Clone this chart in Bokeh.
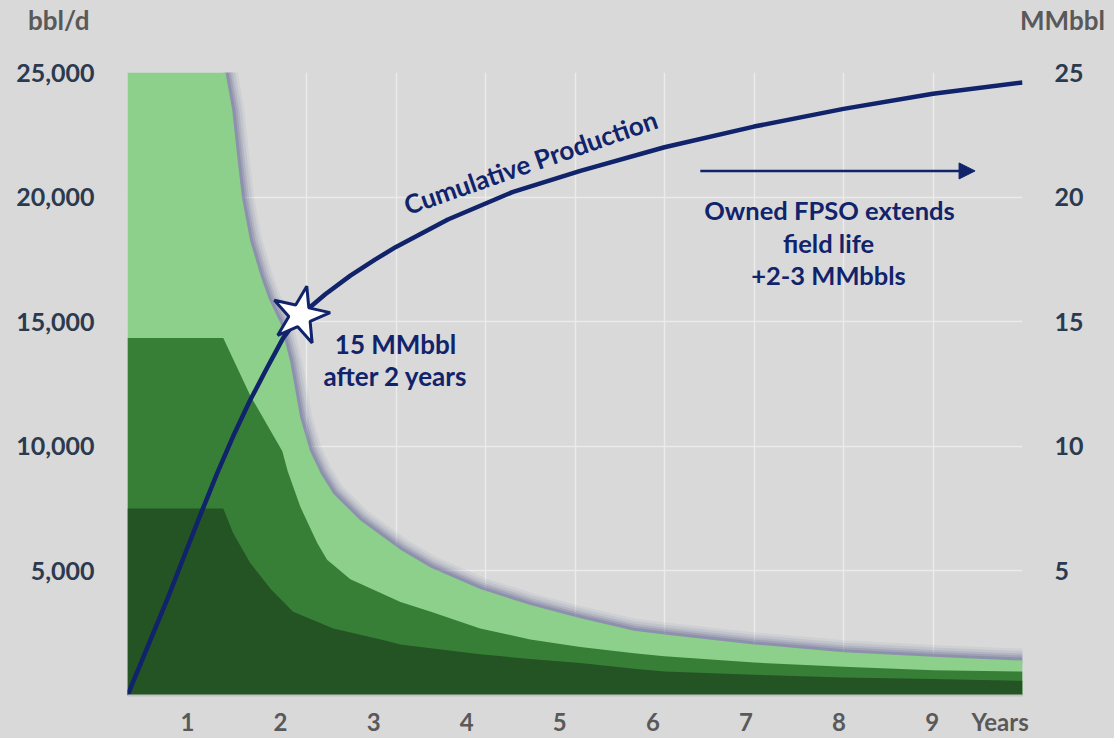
from bokeh.plotting import figure
from bokeh.layouts import column
from bokeh.models import (Range1d, LinearAxis, FixedTicker, NumeralTickFormatter,
                          Label, Arrow, NormalHead, Div)
from bokeh.embed import file_html
from bokeh.resources import INLINE

# ---------------- data ----------------
# total production (top of light green), bbl/d
total_x = [0, 1.095, 1.17, 1.23, 1.28, 1.37, 1.49, 1.58, 1.71, 1.82, 1.93, 2.04, 2.16, 2.30,
           2.60, 3.05, 3.39, 3.94, 4.50, 5.06, 5.66, 6.0, 7.0, 8.0, 9.0, 10.0]
total_y = [25000, 25000, 23500, 21500, 19950, 18250, 16800, 15900, 14930, 13350, 11150, 9800,
           8900, 8100, 7030, 5850, 5130, 4270, 3630, 3100, 2600, 2450, 2050, 1740, 1550, 1400]
# middle layer top (medium green)
medium_x = [0, 1.07, 1.18, 1.37, 1.73, 1.79, 1.93, 2.12, 2.23, 2.49, 3.05, 3.39, 3.94, 4.50,
            5.06, 5.66, 6.0, 7.0, 8.0, 9.0, 10.0]
medium_y = [14350, 14350, 13500, 12050, 9800, 9000, 7580, 6120, 5450, 4660, 3750, 3360, 2690,
            2250, 1950, 1700, 1580, 1320, 1150, 1010, 960]
# bottom layer top (dark green)
dark_x = [0, 1.07, 1.18, 1.37, 1.60, 1.85, 2.30, 2.83, 3.05, 3.39, 3.94, 4.50, 5.06, 5.66,
          6.0, 7.0, 8.0, 9.0, 10.0]
dark_y = [7500, 7500, 6520, 5330, 4270, 3360, 2690, 2250, 2050, 1900, 1660, 1460, 1300, 1070,
          960, 830, 720, 660, 590]
# cumulative production, MMbbl
cum_x = [0, 0.46, 0.65, 0.82, 1.0, 1.18, 1.37, 1.56, 1.74, 1.93, 2.21, 2.49, 2.77, 3.0, 3.58,
         4.3, 5.06, 6.0, 7.0, 8.0, 9.0, 10.0]
cum_y = [0, 4.0, 5.75, 7.3, 8.9, 10.4, 11.85, 13.15, 14.35, 15.25, 16.1, 16.85, 17.5, 18.0,
         19.1, 20.2, 21.05, 22.0, 22.83, 23.54, 24.15, 24.6]
star_year = 1.93
star_value = 15.25

left_ticks = [5000, 10000, 15000, 20000, 25000]
right_ticks = [5, 10, 15, 20, 25]
x_tick_labels = ["1", "2", "3", "4", "5", "6", "7", "8", "9", "Years"]
unit_titles = ["bbl/d", "MMbbl"]
arrow_start, arrow_end, arrow_level = 6.4, 9.47, 21050

# ---------------- styling ----------------
BG = "#d9d9d9"
GRID = "#ebebeb"
LIGHT = "#8cd08b"
MEDIUM = "#377f37"
DARK = "#245424"
NAVY = "#10236b"
SLATE = "#2b3a4f"
GRAY = "#595959"
FONT = "Lato"
TOP_H = 40

# ---- header strip holding the unit titles ----
spans = "".join(
    f'<span style="position:absolute;left:{lx}px;top:4px;line-height:32px;">{txt}</span>'
    for txt, lx in zip(unit_titles, [28, 1020]))
header = Div(text=(f'<div style="position:relative;width:1114px;height:{TOP_H + 2}px;'
                   f'background:{BG};font-family:{FONT};font-weight:bold;font-size:26px;'
                   f'color:{GRAY};white-space:nowrap;">{spans}</div>'),
             width=1114, height=TOP_H, margin=0,
             styles={"background-color": BG, "overflow": "hidden"})

# ---- main chart ----
p = figure(width=1114, height=738 - TOP_H, output_backend="svg", toolbar_location=None,
           x_range=Range1d(0, 10), y_range=Range1d(0, 25000),
           min_border_left=127, min_border_right=92, min_border_top=72 - TOP_H,
           min_border_bottom=33)
p.background_fill_color = BG
p.border_fill_color = BG
p.outline_line_color = None

p.extra_y_ranges = {"cum": Range1d(0, 25)}

# grids
p.xgrid.ticker = FixedTicker(ticks=list(range(0, 11)))
p.ygrid.ticker = FixedTicker(ticks=[0] + left_ticks)
for g in (p.xgrid, p.ygrid):
    g.grid_line_color = GRID
    g.grid_line_width = 1.5

# x axis
label_pos = [round(0.67 + 1.04 * i, 2) for i in range(9)] + [9.75]
xa = p.xaxis[0]
xa.ticker = FixedTicker(ticks=label_pos)
xa.major_label_overrides = {pos: lab for pos, lab in zip(label_pos, x_tick_labels)}
xa.major_tick_line_color = None
xa.minor_tick_line_color = None
xa.axis_line_color = "#c2c2c2"
xa.axis_line_width = 2
xa.major_label_text_font = FONT
xa.major_label_text_font_style = "bold"
xa.major_label_text_font_size = "24px"
xa.major_label_text_color = GRAY
xa.major_label_standoff = 5

# left axis
ya = p.yaxis[0]
ya.ticker = FixedTicker(ticks=left_ticks)
ya.formatter = NumeralTickFormatter(format="0,0")
ya.major_tick_line_color = None
ya.minor_tick_line_color = None
ya.axis_line_color = None
ya.major_label_text_font = FONT
ya.major_label_text_font_style = "bold"
ya.major_label_text_font_size = "25px"
ya.major_label_text_color = SLATE
ya.major_label_standoff = 27

# right axis
ra = LinearAxis(y_range_name="cum", ticker=FixedTicker(ticks=right_ticks))
ra.major_tick_line_color = None
ra.minor_tick_line_color = None
ra.axis_line_color = None
ra.major_label_text_font = FONT
ra.major_label_text_font_style = "bold"
ra.major_label_text_font_size = "25px"
ra.major_label_text_color = SLATE
ra.major_label_standoff = 26
p.add_layout(ra, "right")

# glow / shadow around total production curve
for w, a in [(24, 0.08), (19, 0.11), (14, 0.15), (10, 0.2), (6, 0.26)]:
    p.line(total_x[1:], total_y[1:], line_width=w, line_color="#5a6090", line_alpha=a,
           line_join="round")

# stacked areas
p.varea(x=total_x, y1=0, y2=total_y, fill_color=LIGHT)
p.varea(x=medium_x, y1=0, y2=medium_y, fill_color=MEDIUM)
p.varea(x=dark_x, y1=0, y2=dark_y, fill_color=DARK)

# cumulative line
p.line(cum_x, cum_y, y_range_name="cum", line_color=NAVY, line_width=4.5, line_join="round")
p.scatter([star_year], [star_value], y_range_name="cum", marker="star", size=60,
          fill_color="white", line_color=NAVY, line_width=3, angle=-0.22)

# arrow
p.add_layout(Arrow(end=NormalHead(size=16, fill_color=NAVY, line_color=NAVY),
                   x_start=arrow_start, y_start=arrow_level, x_end=arrow_end, y_end=arrow_level,
                   line_color=NAVY, line_width=2.5))


def lab(x, y, text, size, color, align="center", baseline="alphabetic", angle=0.0):
    p.add_layout(Label(x=x, y=y, text=text, text_font=FONT, text_font_style="bold",
                       text_font_size=size, text_color=color, text_align=align,
                       text_baseline=baseline, angle=angle))


def px_to_x(px):
    return (px - 127) / 89.5


def py_to_y(py):
    return (705 - py) / 25.32 * 1000


lab(px_to_x(530), py_to_y(163), "Cumulative Production", "26px", NAVY, baseline="middle",
    angle=0.335)
lab(px_to_x(395), py_to_y(348), "15 MMbbl", "26px", NAVY)
lab(px_to_x(395), py_to_y(380), "after 2 years", "26px", NAVY)
lab(px_to_x(829), py_to_y(212), "Owned FPSO extends", "25.5px", NAVY)
lab(px_to_x(828), py_to_y(245), "field life", "25.5px", NAVY)
lab(px_to_x(828), py_to_y(278), "+2-3 MMbbls", "25.5px", NAVY)

layout = column(header, p, spacing=0, styles={"background-color": BG})
open("out.html", "w").write(file_html(layout, INLINE))
